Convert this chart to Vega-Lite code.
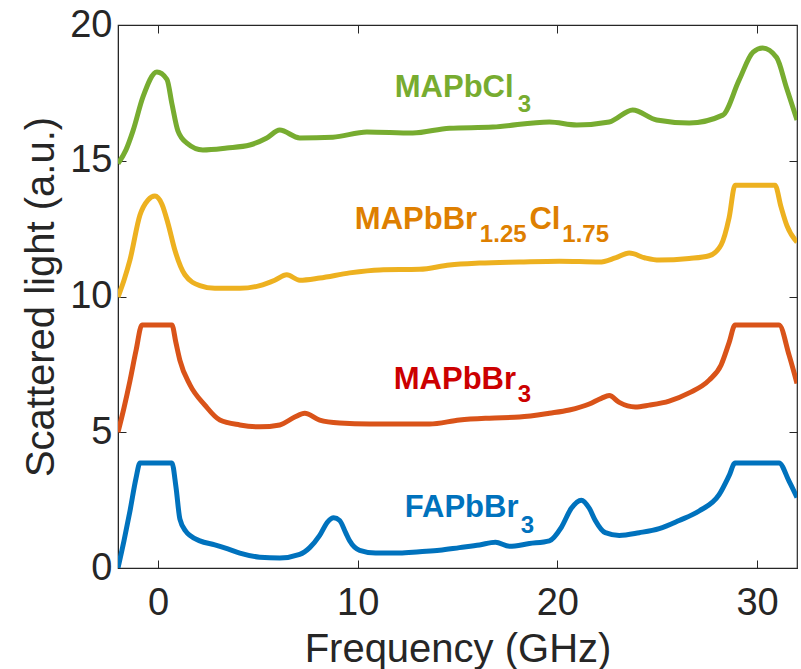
{
  "$schema": "https://vega.github.io/schema/vega-lite/v6.json",
  "width": 679,
  "height": 543,
  "autosize": {"type": "none"},
  "padding": {"left": 118, "top": 25, "right": 4, "bottom": 101},
  "background": "white",
  "config": {
    "view": {"stroke": "#262626", "strokeWidth": 1.2},
    "axis": {
      "labelFont": "Liberation Sans",
      "labelFontSize": 38,
      "labelColor": "#262626",
      "titleFont": "Liberation Sans",
      "titleFontSize": 40,
      "titleColor": "#262626",
      "titleFontWeight": "normal",
      "domainColor": "#262626",
      "tickColor": "#262626",
      "grid": false,
      "tickSize": -8
    }
  },
  "datasets": {
    "curves": [
      {"s": "FAPbBr3", "f": -2, "v": 0.0},
      {"s": "FAPbBr3", "f": -1.7, "v": 1.0},
      {"s": "FAPbBr3", "f": -1.4, "v": 2.1},
      {"s": "FAPbBr3", "f": -1.1, "v": 3.3},
      {"s": "FAPbBr3", "f": -0.9, "v": 3.87},
      {"s": "FAPbBr3", "f": 0.7, "v": 3.87},
      {"s": "FAPbBr3", "f": 0.9, "v": 3.0},
      {"s": "FAPbBr3", "f": 1.1, "v": 1.8},
      {"s": "FAPbBr3", "f": 1.4, "v": 1.35},
      {"s": "FAPbBr3", "f": 1.6, "v": 1.2},
      {"s": "FAPbBr3", "f": 2.1, "v": 1.0},
      {"s": "FAPbBr3", "f": 2.85, "v": 0.85},
      {"s": "FAPbBr3", "f": 3.5, "v": 0.7},
      {"s": "FAPbBr3", "f": 4.1, "v": 0.55},
      {"s": "FAPbBr3", "f": 5.1, "v": 0.4},
      {"s": "FAPbBr3", "f": 6.1, "v": 0.37},
      {"s": "FAPbBr3", "f": 7.1, "v": 0.5},
      {"s": "FAPbBr3", "f": 7.6, "v": 0.75},
      {"s": "FAPbBr3", "f": 8.1, "v": 1.2},
      {"s": "FAPbBr3", "f": 8.5, "v": 1.7},
      {"s": "FAPbBr3", "f": 8.8, "v": 1.85},
      {"s": "FAPbBr3", "f": 9.1, "v": 1.75},
      {"s": "FAPbBr3", "f": 9.4, "v": 1.3},
      {"s": "FAPbBr3", "f": 9.6, "v": 1.0},
      {"s": "FAPbBr3", "f": 10.1, "v": 0.65},
      {"s": "FAPbBr3", "f": 10.9, "v": 0.55},
      {"s": "FAPbBr3", "f": 12.1, "v": 0.55},
      {"s": "FAPbBr3", "f": 13.1, "v": 0.6},
      {"s": "FAPbBr3", "f": 14.1, "v": 0.65},
      {"s": "FAPbBr3", "f": 15.1, "v": 0.75},
      {"s": "FAPbBr3", "f": 16.1, "v": 0.85},
      {"s": "FAPbBr3", "f": 16.9, "v": 0.95},
      {"s": "FAPbBr3", "f": 17.6, "v": 0.8},
      {"s": "FAPbBr3", "f": 18.6, "v": 0.9},
      {"s": "FAPbBr3", "f": 19.6, "v": 1.0},
      {"s": "FAPbBr3", "f": 20.2, "v": 1.5},
      {"s": "FAPbBr3", "f": 20.7, "v": 2.2},
      {"s": "FAPbBr3", "f": 21.2, "v": 2.5},
      {"s": "FAPbBr3", "f": 21.6, "v": 2.2},
      {"s": "FAPbBr3", "f": 21.9, "v": 1.75},
      {"s": "FAPbBr3", "f": 22.4, "v": 1.3},
      {"s": "FAPbBr3", "f": 23.1, "v": 1.2},
      {"s": "FAPbBr3", "f": 24.1, "v": 1.3},
      {"s": "FAPbBr3", "f": 25.1, "v": 1.45},
      {"s": "FAPbBr3", "f": 26.1, "v": 1.75},
      {"s": "FAPbBr3", "f": 27.1, "v": 2.1},
      {"s": "FAPbBr3", "f": 28.1, "v": 2.7},
      {"s": "FAPbBr3", "f": 28.6, "v": 3.4},
      {"s": "FAPbBr3", "f": 28.9, "v": 3.87},
      {"s": "FAPbBr3", "f": 31.1, "v": 3.87},
      {"s": "FAPbBr3", "f": 31.6, "v": 3.2},
      {"s": "FAPbBr3", "f": 32, "v": 2.6},

      {"s": "MAPbBr3", "f": -2, "v": 5.0},
      {"s": "MAPbBr3", "f": -1.7, "v": 5.9},
      {"s": "MAPbBr3", "f": -1.4, "v": 6.9},
      {"s": "MAPbBr3", "f": -1.1, "v": 8.0},
      {"s": "MAPbBr3", "f": -0.8, "v": 8.95},
      {"s": "MAPbBr3", "f": 0.7, "v": 8.95},
      {"s": "MAPbBr3", "f": 0.9, "v": 8.3},
      {"s": "MAPbBr3", "f": 1.1, "v": 7.65},
      {"s": "MAPbBr3", "f": 1.6, "v": 6.75},
      {"s": "MAPbBr3", "f": 2.35, "v": 6.0},
      {"s": "MAPbBr3", "f": 3.1, "v": 5.45},
      {"s": "MAPbBr3", "f": 4.1, "v": 5.27},
      {"s": "MAPbBr3", "f": 5.1, "v": 5.2},
      {"s": "MAPbBr3", "f": 6.1, "v": 5.27},
      {"s": "MAPbBr3", "f": 6.85, "v": 5.56},
      {"s": "MAPbBr3", "f": 7.35, "v": 5.7},
      {"s": "MAPbBr3", "f": 8.1, "v": 5.45},
      {"s": "MAPbBr3", "f": 9.1, "v": 5.34},
      {"s": "MAPbBr3", "f": 10.6, "v": 5.3},
      {"s": "MAPbBr3", "f": 12.1, "v": 5.3},
      {"s": "MAPbBr3", "f": 13.6, "v": 5.3},
      {"s": "MAPbBr3", "f": 15.1, "v": 5.45},
      {"s": "MAPbBr3", "f": 16.6, "v": 5.52},
      {"s": "MAPbBr3", "f": 18.1, "v": 5.56},
      {"s": "MAPbBr3", "f": 19.6, "v": 5.7},
      {"s": "MAPbBr3", "f": 20.6, "v": 5.82},
      {"s": "MAPbBr3", "f": 21.6, "v": 6.04},
      {"s": "MAPbBr3", "f": 22.2, "v": 6.25},
      {"s": "MAPbBr3", "f": 22.6, "v": 6.35},
      {"s": "MAPbBr3", "f": 23.1, "v": 6.1},
      {"s": "MAPbBr3", "f": 23.9, "v": 5.93},
      {"s": "MAPbBr3", "f": 24.6, "v": 6.0},
      {"s": "MAPbBr3", "f": 25.6, "v": 6.15},
      {"s": "MAPbBr3", "f": 26.6, "v": 6.45},
      {"s": "MAPbBr3", "f": 27.6, "v": 6.92},
      {"s": "MAPbBr3", "f": 28.2, "v": 7.48},
      {"s": "MAPbBr3", "f": 28.6, "v": 8.3},
      {"s": "MAPbBr3", "f": 28.9, "v": 8.95},
      {"s": "MAPbBr3", "f": 31.1, "v": 8.95},
      {"s": "MAPbBr3", "f": 31.6, "v": 7.85},
      {"s": "MAPbBr3", "f": 32, "v": 6.8},

      {"s": "MAPbBr1.25Cl1.75", "f": -2, "v": 9.98},
      {"s": "MAPbBr1.25Cl1.75", "f": -1.7, "v": 10.6},
      {"s": "MAPbBr1.25Cl1.75", "f": -1.4, "v": 11.35},
      {"s": "MAPbBr1.25Cl1.75", "f": -0.9, "v": 13.0},
      {"s": "MAPbBr1.25Cl1.75", "f": -0.5, "v": 13.55},
      {"s": "MAPbBr1.25Cl1.75", "f": -0.15, "v": 13.7},
      {"s": "MAPbBr1.25Cl1.75", "f": 0.2, "v": 13.4},
      {"s": "MAPbBr1.25Cl1.75", "f": 0.5, "v": 12.7},
      {"s": "MAPbBr1.25Cl1.75", "f": 0.85, "v": 11.7},
      {"s": "MAPbBr1.25Cl1.75", "f": 1.35, "v": 10.8},
      {"s": "MAPbBr1.25Cl1.75", "f": 2.1, "v": 10.4},
      {"s": "MAPbBr1.25Cl1.75", "f": 2.85, "v": 10.3},
      {"s": "MAPbBr1.25Cl1.75", "f": 4.1, "v": 10.3},
      {"s": "MAPbBr1.25Cl1.75", "f": 5.1, "v": 10.4},
      {"s": "MAPbBr1.25Cl1.75", "f": 5.85, "v": 10.6},
      {"s": "MAPbBr1.25Cl1.75", "f": 6.45, "v": 10.8},
      {"s": "MAPbBr1.25Cl1.75", "f": 7.1, "v": 10.6},
      {"s": "MAPbBr1.25Cl1.75", "f": 8.1, "v": 10.68},
      {"s": "MAPbBr1.25Cl1.75", "f": 9.6, "v": 10.87},
      {"s": "MAPbBr1.25Cl1.75", "f": 11.1, "v": 10.98},
      {"s": "MAPbBr1.25Cl1.75", "f": 13.1, "v": 11.0},
      {"s": "MAPbBr1.25Cl1.75", "f": 14.6, "v": 11.16},
      {"s": "MAPbBr1.25Cl1.75", "f": 16.1, "v": 11.23},
      {"s": "MAPbBr1.25Cl1.75", "f": 18.1, "v": 11.27},
      {"s": "MAPbBr1.25Cl1.75", "f": 20.1, "v": 11.3},
      {"s": "MAPbBr1.25Cl1.75", "f": 22.1, "v": 11.27},
      {"s": "MAPbBr1.25Cl1.75", "f": 22.9, "v": 11.42},
      {"s": "MAPbBr1.25Cl1.75", "f": 23.6, "v": 11.6},
      {"s": "MAPbBr1.25Cl1.75", "f": 24.4, "v": 11.42},
      {"s": "MAPbBr1.25Cl1.75", "f": 25.1, "v": 11.34},
      {"s": "MAPbBr1.25Cl1.75", "f": 26.6, "v": 11.4},
      {"s": "MAPbBr1.25Cl1.75", "f": 27.6, "v": 11.5},
      {"s": "MAPbBr1.25Cl1.75", "f": 28.2, "v": 11.9},
      {"s": "MAPbBr1.25Cl1.75", "f": 28.6, "v": 12.9},
      {"s": "MAPbBr1.25Cl1.75", "f": 28.9, "v": 14.1},
      {"s": "MAPbBr1.25Cl1.75", "f": 30.9, "v": 14.1},
      {"s": "MAPbBr1.25Cl1.75", "f": 31.2, "v": 13.3},
      {"s": "MAPbBr1.25Cl1.75", "f": 31.5, "v": 12.6},
      {"s": "MAPbBr1.25Cl1.75", "f": 32, "v": 12.0},

      {"s": "MAPbCl3", "f": -2, "v": 14.9},
      {"s": "MAPbCl3", "f": -1.6, "v": 15.4},
      {"s": "MAPbCl3", "f": -1.25, "v": 16.1},
      {"s": "MAPbCl3", "f": -0.75, "v": 17.35},
      {"s": "MAPbCl3", "f": -0.05, "v": 18.27},
      {"s": "MAPbCl3", "f": 0.45, "v": 18.0},
      {"s": "MAPbCl3", "f": 0.7, "v": 17.1},
      {"s": "MAPbCl3", "f": 1.0, "v": 16.1},
      {"s": "MAPbCl3", "f": 1.45, "v": 15.65},
      {"s": "MAPbCl3", "f": 2.25, "v": 15.4},
      {"s": "MAPbCl3", "f": 3.45, "v": 15.47},
      {"s": "MAPbCl3", "f": 4.6, "v": 15.58},
      {"s": "MAPbCl3", "f": 5.45, "v": 15.84},
      {"s": "MAPbCl3", "f": 6.1, "v": 16.13},
      {"s": "MAPbCl3", "f": 7.1, "v": 15.84},
      {"s": "MAPbCl3", "f": 8.76, "v": 15.87},
      {"s": "MAPbCl3", "f": 10.46, "v": 16.06},
      {"s": "MAPbCl3", "f": 12.76, "v": 16.02},
      {"s": "MAPbCl3", "f": 14.6, "v": 16.2},
      {"s": "MAPbCl3", "f": 16.77, "v": 16.24},
      {"s": "MAPbCl3", "f": 19.6, "v": 16.43},
      {"s": "MAPbCl3", "f": 20.97, "v": 16.32},
      {"s": "MAPbCl3", "f": 22.6, "v": 16.43},
      {"s": "MAPbCl3", "f": 23.77, "v": 16.87},
      {"s": "MAPbCl3", "f": 24.97, "v": 16.5},
      {"s": "MAPbCl3", "f": 26.6, "v": 16.39},
      {"s": "MAPbCl3", "f": 28.28, "v": 16.68},
      {"s": "MAPbCl3", "f": 29.1, "v": 17.97},
      {"s": "MAPbCl3", "f": 29.8, "v": 19.0},
      {"s": "MAPbCl3", "f": 30.28, "v": 19.15},
      {"s": "MAPbCl3", "f": 30.98, "v": 18.8},
      {"s": "MAPbCl3", "f": 31.47, "v": 17.7},
      {"s": "MAPbCl3", "f": 32, "v": 16.5}
    ],
    "labels": [
      {"s": "MAPbCl3", "k": "main", "t": "MAPbCl", "x": 11.86, "y": 17.68},
      {"s": "MAPbCl3", "k": "sub", "t": "3", "x": 18.02, "y": 17.05},
      {"s": "MAPbBr1.25Cl1.75", "k": "main", "t": "MAPbBr", "x": 9.86, "y": 12.82},
      {"s": "MAPbBr1.25Cl1.75", "k": "sub", "t": "1.25", "x": 16.12, "y": 12.25},
      {"s": "MAPbBr1.25Cl1.75", "k": "main", "t": "Cl", "x": 18.6, "y": 12.82},
      {"s": "MAPbBr1.25Cl1.75", "k": "sub", "t": "1.75", "x": 20.25, "y": 12.25},
      {"s": "MAPbBr3", "k": "main", "t": "MAPbBr", "x": 11.81, "y": 6.94},
      {"s": "MAPbBr3", "k": "sub", "t": "3", "x": 18.02, "y": 6.37},
      {"s": "FAPbBr3", "k": "main", "t": "FAPbBr", "x": 12.36, "y": 2.22},
      {"s": "FAPbBr3", "k": "sub", "t": "3", "x": 18.17, "y": 1.55}
    ]
  },
  "layer": [
    {
      "data": {"name": "curves"},
      "mark": {"type": "line", "interpolate": "monotone", "strokeWidth": 5, "strokeJoin": "round", "clip": true},
      "encoding": {
        "x": {"field": "f", "type": "quantitative", "scale": {"domain": [-2, 32], "nice": false, "zero": false},
              "axis": {"orient": "bottom", "values": [0, 10, 20, 30], "title": "Frequency (GHz)", "labelPadding": 24, "titlePadding": 7}},
        "y": {"field": "v", "type": "quantitative", "scale": {"domain": [0, 20], "nice": false, "zero": false},
              "axis": {"orient": "left", "values": [0, 5, 10, 15, 20], "title": "Scattered light (a.u.)", "labelPadding": 14, "titlePadding": 8}},
        "color": {"field": "s", "type": "nominal",
                  "scale": {"domain": ["FAPbBr3", "MAPbBr3", "MAPbBr1.25Cl1.75", "MAPbCl3"], "range": ["#0072BD", "#D95319", "#EDB120", "#77AC30"]},
                  "legend": null}
      }
    },
    {
      "data": {"name": "curves"},
      "mark": {"type": "line", "opacity": 0},
      "encoding": {
        "x": {"field": "f", "type": "quantitative", "scale": {"domain": [-2, 32], "nice": false, "zero": false},
              "axis": {"orient": "top", "values": [0, 10, 20, 30], "labels": false, "title": null, "domain": false}},
        "y": {"field": "v", "type": "quantitative", "scale": {"domain": [0, 20], "nice": false, "zero": false},
              "axis": {"orient": "right", "values": [0, 5, 10, 15, 20], "labels": false, "title": null, "domain": false}}
      }
    },
    {
      "data": {"name": "labels"},
      "transform": [{"filter": "datum.k == 'main'"}],
      "mark": {"type": "text", "align": "left", "baseline": "middle", "fontSize": 31, "fontWeight": "bold", "font": "Liberation Sans"},
      "encoding": {
        "x": {"field": "x", "type": "quantitative", "axis": null},
        "y": {"field": "y", "type": "quantitative", "axis": null},
        "text": {"field": "t"},
        "color": {"field": "s", "type": "nominal",
                  "scale": {"domain": ["FAPbBr3", "MAPbBr3", "MAPbBr1.25Cl1.75", "MAPbCl3"], "range": ["#0072BD", "#CC0000", "#DE7F00", "#77AC30"]},
                  "legend": null}
      }
    },
    {
      "data": {"name": "labels"},
      "transform": [{"filter": "datum.k == 'sub'"}],
      "mark": {"type": "text", "align": "left", "baseline": "middle", "fontSize": 24, "fontWeight": "bold", "font": "Liberation Sans"},
      "encoding": {
        "x": {"field": "x", "type": "quantitative", "axis": null},
        "y": {"field": "y", "type": "quantitative", "axis": null},
        "text": {"field": "t"},
        "color": {"field": "s", "type": "nominal",
                  "scale": {"domain": ["FAPbBr3", "MAPbBr3", "MAPbBr1.25Cl1.75", "MAPbCl3"], "range": ["#0072BD", "#CC0000", "#DE7F00", "#77AC30"]},
                  "legend": null}
      }
    }
  ],
  "resolve": {"scale": {"color": "independent"}, "axis": {"x": "independent", "y": "independent"}}
}
